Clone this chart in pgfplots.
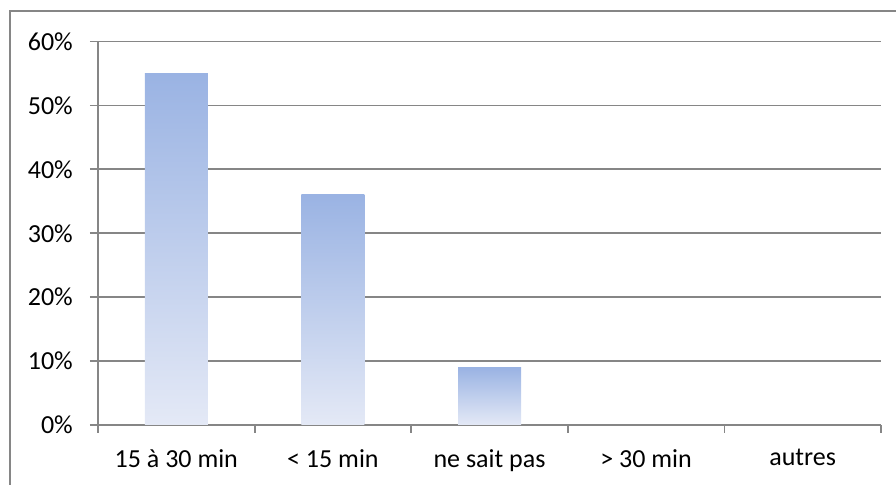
\documentclass[border=0pt]{standalone}
\usepackage{pgfplots}
\pgfplotsset{compat=1.18}
\usetikzlibrary{calc}
\usepackage{fontspec}
\setmainfont{Carlito}
\definecolor{gridgray}{HTML}{868686}
\definecolor{bartop}{HTML}{9AB3E3}
\definecolor{barbottom}{HTML}{E4E9F6}
\pgfplotsset{
  gradbar/.style={ybar, bar width=63bp, bar shift=0pt, draw=none,
    top color=bartop, bottom color=barbottom},
}
\begin{document}
\begin{tikzpicture}[x=1bp,y=1bp]
\begin{axis}[
  scale only axis, width=783bp, height=383.5bp,
  xmin=-0.5, xmax=4.5, ymin=0, ymax=60,
  axis lines*=left,
  axis line style={gridgray, line width=1.8bp},
  every tick/.style={gridgray, line width=1.8bp},
  tick align=outside,
  major tick length=8bp,
  ytick={0,10,...,60},
  yticklabel={\pgfmathprintnumber{\tick}\%},
  ymajorgrids,
  grid style={gridgray, line width=1.8bp},
  xtick={-0.5,0.5,...,4.5},
  x tick label as interval,
  xticklabels={15 à 30 min, < 15 min, ne sait pas, > 30 min, autres},
  /pgf/number format/assume math mode=true,
  ticklabel style={font=\fontsize{26bp}{30bp}\selectfont, text=black},
  yticklabel style={inner sep=0pt, xshift=-17bp},
  xticklabel style={inner sep=0pt, yshift=-16bp},
  clip=false,
]
% one plot per category so that each bar carries its own gradient
\addplot[gradbar] coordinates {(0,55)};
\addplot[gradbar] coordinates {(1,36)};
\addplot[gradbar] coordinates {(2,9)};
\addplot[gradbar] coordinates {(3,0)};
\addplot[gradbar] coordinates {(4,0)};
\coordinate (O) at (rel axis cs:0,0);
\end{axis}
\pgfresetboundingbox
\useasboundingbox ($(O)+(-98,-60)$) rectangle ++(896,485);
% outer chart frame (top and left edges)
\draw[gridgray, line width=1.8bp] ($(O)+(-88,-80)$) -- ++(0,494) -- ++(900,0);
\end{tikzpicture}
\end{document}
